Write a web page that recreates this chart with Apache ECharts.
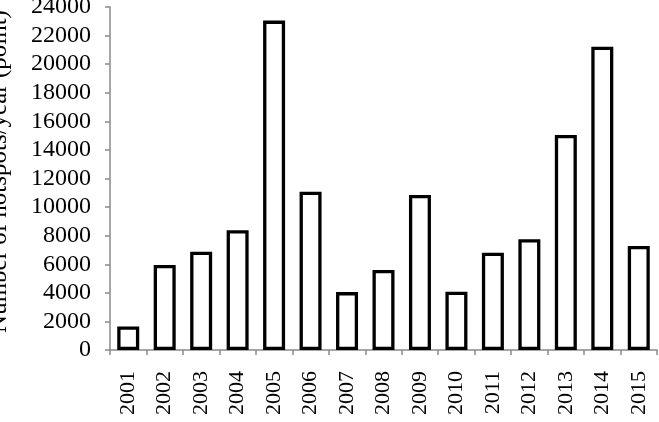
<!DOCTYPE html>
<html>
<head>
<meta charset="utf-8">
<script src="https://cdn.jsdelivr.net/npm/echarts@6/dist/echarts.min.js"></script>
<style>
html,body{margin:0;padding:0;background:#fff;}
#chart{width:659px;height:422px;}
</style>
</head>
<body>
<div id="chart"></div>
<script>
var years = ['2001','2002','2003','2004','2005','2006','2007','2008','2009','2010','2011','2012','2013','2014','2015'];
var hotspots = [1650, 5950, 6880, 8380, 23050, 11080, 4050, 5600, 10850, 4080, 6810, 7750, 15050, 21220, 7280];
var yTitle = 'Number of hotspots/year (point)';

var chart = echarts.init(document.getElementById('chart'));
var font = 'Liberation Serif';
chart.setOption({
  animation: false,
  backgroundColor: '#fff',
  grid: {left: 110, right: 2, top: 7, bottom: 72, containLabel: false, outerBoundsMode: 'none'},
  xAxis: {
    type: 'category',
    data: years,
    boundaryGap: true,
    axisLine: {show: true, lineStyle: {color: '#8a8a8a', width: 1.5}},
    axisTick: {show: true, length: 5, alignWithLabel: false, lineStyle: {color: '#8a8a8a', width: 1.5}},
    axisLabel: {rotate: 90, margin: 21, color: '#000', fontFamily: font, fontSize: 22, interval: 0}
  },
  yAxis: {
    type: 'value',
    min: 0,
    max: 24000,
    interval: 2000,
    name: yTitle,
    nameLocation: 'middle',
    nameRotate: 90,
    nameGap: 98,
    nameTextStyle: {color: '#000', fontFamily: font, fontSize: 25, padding: [0, 0, 0, 14]},
    splitLine: {show: false},
    axisLine: {show: true, lineStyle: {color: '#8a8a8a', width: 1.5}},
    axisTick: {show: true, length: 5, lineStyle: {color: '#8a8a8a', width: 1.5}},
    axisLabel: {margin: 19, color: '#000', fontFamily: font, fontSize: 24, formatter: function (v) { return String(v); }}
  },
  series: [{
    type: 'bar',
    data: hotspots,
    barWidth: 22,
    itemStyle: {color: '#fff', borderColor: '#000', borderWidth: 3.3}
  }]
});
</script>
</body>
</html>
